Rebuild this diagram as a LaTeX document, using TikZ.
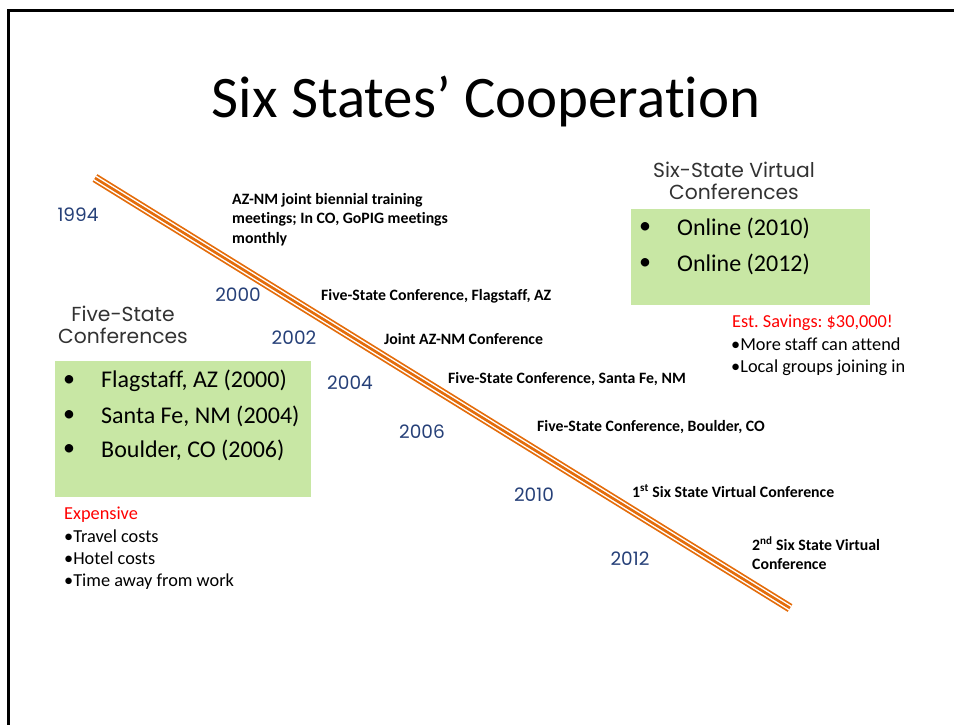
\documentclass[tikz,border=0pt]{standalone}
\usepackage{fontspec}
\setmainfont{Carlito}[Ligatures=CommonOff]
\newfontfamily\geo{Poppins}
\frenchspacing
\definecolor{tlorange}{RGB}{228,108,10}
\definecolor{boxgreen}{RGB}{200,231,164}
\definecolor{yearblue}{RGB}{38,64,120}
\definecolor{headgray}{RGB}{50,50,50}
\definecolor{alertred}{RGB}{255,0,0}
\tikzset{
  year/.style={font=\geo\fontsize{18.5}{22}\selectfont, text=yearblue, inner sep=0pt},
  event/.style={font=\bfseries\fontsize{15.8}{19.5}\selectfont, anchor=west, align=left, inner sep=0pt},
  heading/.style={font=\geo\fontsize{20.3}{22}\selectfont, text=headgray, align=center, inner sep=0pt},
  gbox/.style={fill=boxgreen, draw=none, inner sep=0pt},
  bigitem/.style={font=\fontsize{24}{26}\selectfont, anchor=west, inner sep=0pt},
  smallitem/.style={font=\fontsize{18.3}{22}\selectfont, anchor=west, align=left, inner sep=0pt},
}
\begin{document}
\begin{tikzpicture}[x=1pt,y=-1pt]
\useasboundingbox (0,0) rectangle (954,724);
% frame
\draw[line width=3pt] (8,730) -- (8,10) -- (960,10);
% title
\node[font=\fontsize{58.9}{62}\selectfont, inner sep=0pt] (title) at (486,101) {Six States’ Cooperation};
% timeline
\coordinate (tlstart) at (95,178);
\coordinate (tlend) at (790,608);
\draw[tlorange, line width=9pt] (tlstart) -- (tlend);
\draw[white, line width=5.5pt] (tlstart) -- (tlend);
\draw[tlorange, line width=2.6pt] (tlstart) -- (tlend);
% years
\node[year] (y1994) at (78,215) {1994};
\node[year] (y2000) at (238,295) {2000};
\node[year] (y2002) at (294,338) {2002};
\node[year] (y2004) at (350,383) {2004};
\node[year] (y2006) at (422,432) {2006};
\node[year] (y2010) at (534,495) {2010};
\node[year] (y2012) at (630,559) {2012};
% events
\node[event] (e1994) at (232,219.5) {AZ-NM joint biennial training\\meetings; In CO, GoPIG meetings\\monthly};
\node[event] (e2000) at (321,296) {Five-State Conference, Flagstaff, AZ};
\node[event] (e2002) at (384,339) {Joint AZ-NM Conference};
\node[event] (e2004) at (448,379) {Five-State Conference, Santa Fe, NM};
\node[event] (e2006) at (537,427) {Five-State Conference, Boulder, CO};
\node[event] (e2010) at (632,491) {1\textsuperscript{st} Six State Virtual Conference};
\node[event] (e2012) at (752,553.5) {2\textsuperscript{nd} Six State Virtual\\Conference};
% left group
\node[heading] (fivehead) at (123,325) {Five-State\\Conferences};
\path[gbox] (55,361) rectangle (311,497);
\node[bigitem] (b1) at (63,381) {•};
\node[bigitem] (f1) at (101,381) {Flagstaff, AZ (2000)};
\node[bigitem] (b2) at (63,416) {•};
\node[bigitem] (f2) at (101,416) {Santa Fe, NM (2004)};
\node[bigitem] (b3) at (63,450) {•};
\node[bigitem] (f3) at (101,450) {Boulder, CO (2006)};
\node[smallitem, text=alertred] (expensive) at (64,515) {Expensive};
\node[smallitem] (costs) at (64,560) {•Travel costs\\•Hotel costs\\•Time away from work};
% right group
\node[heading] (sixhead) at (734,180.5) {Six-State Virtual\\Conferences};
\path[gbox] (631,209) rectangle (870,305);
\node[bigitem] (b4) at (639,228) {•};
\node[bigitem] (o1) at (677,228) {Online (2010)};
\node[bigitem] (b5) at (639,264) {•};
\node[bigitem] (o2) at (677,264) {Online (2012)};
\node[smallitem, text=alertred] (savings) at (732,323) {Est. Savings: \$30,000!};
\node[smallitem] (benefits) at (731,357) {•More staff can attend\\•Local groups joining in};
\end{tikzpicture}
\end{document}
